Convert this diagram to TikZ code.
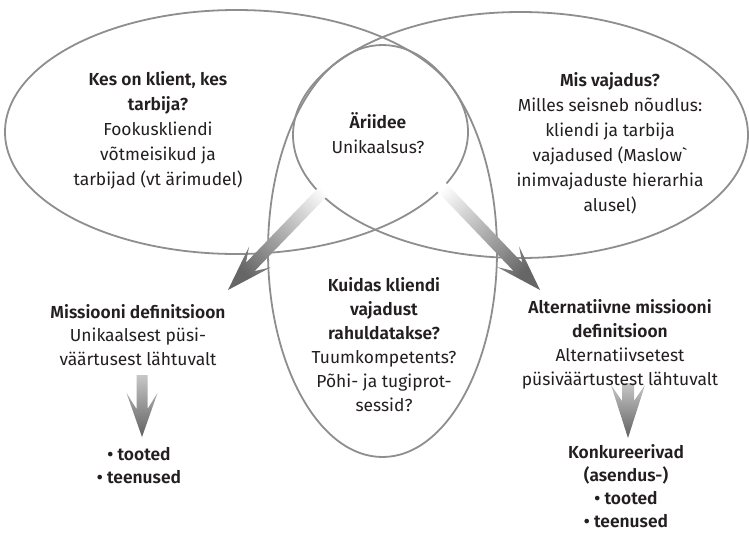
\documentclass[tikz,border=0pt]{standalone}
\usepackage{fontspec}
\setmainfont{Fira Sans}[BoldFont=* SemiBold]
\usetikzlibrary{calc}
\definecolor{linegray}{HTML}{8E8E8E}
\definecolor{txt}{HTML}{231F20}
\newcommand{\gravemark}{{\addfontfeatures{Ligatures=TeXOff}`}}
\begin{document}
\begin{tikzpicture}[x=1pt,y=-1pt,
  ell/.style={draw=linegray, line width=1.8pt},
  lbl/.style={align=center, text=txt, font=\fontsize{17.4}{25}\selectfont, inner sep=0pt},
  bigshade/.style={top color=white, bottom color=black!60},
  downshade/.style={top color=black!22, bottom color=black!62}]
\useasboundingbox (0,0) rectangle (749,533);
\fill[white] (0,0) rectangle (749,533);
% ellipses
\draw[ell] (236.5,132) ellipse [x radius=231.5pt, y radius=122pt];
\draw[ell] (520.5,135) ellipse [x radius=227.5pt, y radius=123pt];
\draw[ell] (382.5,251) ellipse [x radius=114.5pt, y radius=206pt];
% left diagonal arrow
\coordinate (ls) at (337,177);
\coordinate (lt) at (228,290);
\coordinate (ln) at ($(lt)!32pt!(ls)$);
\coordinate (lb) at ($(lt)!46pt!(ls)$);
\shade[bigshade, shading angle=-44]
  ($(ls)!6pt!90:(lt)$) -- ($(ln)!6pt!-90:(ls)$) -- ($(lb)!15pt!-90:(ls)$) -- (lt)
  -- ($(lb)!15pt!90:(ls)$) -- ($(ln)!6pt!90:(ls)$) -- ($(ls)!6pt!-90:(lt)$) -- cycle;
% right diagonal arrow
\coordinate (rs) at (430,175);
\coordinate (rt) at (540,290);
\coordinate (rn) at ($(rt)!32pt!(rs)$);
\coordinate (rb) at ($(rt)!46pt!(rs)$);
\shade[bigshade, shading angle=44]
  ($(rs)!6pt!90:(rt)$) -- ($(rn)!6pt!-90:(rs)$) -- ($(rb)!15pt!-90:(rs)$) -- (rt)
  -- ($(rb)!15pt!90:(rs)$) -- ($(rn)!6pt!90:(rs)$) -- ($(rs)!6pt!-90:(rt)$) -- cycle;
% down arrows
\shade[downshade] (136.5,375) -- (147.5,375) -- (147.5,409) -- (157.5,393) -- (142,437)
  -- (126.5,393) -- (136.5,409) -- cycle;
\shade[downshade] (622,383) -- (634,383) -- (634,401) -- (645,385) -- (628,438)
  -- (611,385) -- (622,401) -- cycle;
% texts
\node[lbl] (klient) at (158,130) {\textbf{Kes on klient, kes}\\\textbf{tarbija?}\\Fookuskliendi\\võtmeisikud ja\\tarbijad (vt ärimudel)};
\node[lbl] (idee) at (378,133) {\textbf{Äriidee}\\Unikaalsus?};
\node[lbl] (vajadus) at (610,143) {\textbf{Mis vajadus?}\\Milles seisneb nõudlus:\\kliendi ja tarbija\\vajadused (Maslow\gravemark\\inimvajaduste hierarhia\\alusel)};
\node[lbl, font=\fontsize{17.4}{24}\selectfont] (kuidas) at (384,345) {\textbf{Kuidas kliendi}\\\textbf{vajadust}\\\textbf{rahuldatakse?}\\Tuumkompetents?\\Põhi- ja tugiprot-\\sessid?};
\node[lbl, font=\fontsize{17.4}{23.5}\selectfont] (mission) at (138,335) {\textbf{Missiooni definitsioon}\\Unikaalsest püsi-\\väärtusest lähtuvalt};
\node[lbl, font=\fontsize{17.4}{23}\selectfont] (tooted) at (139,466) {\textbf{• tooted}\\\textbf{• teenused}};
\node[lbl, font=\fontsize{17.4}{24}\selectfont] (altmission) at (620,344) {\textbf{Alternatiivne missiooni}\\\textbf{definitsioon}\\Alternatiivsetest\\püsiväärtustest lähtuvalt};
\node[lbl, font=\fontsize{17.4}{23}\selectfont] (konk) at (626,486) {\textbf{Konkureerivad}\\\textbf{(asendus-)}\\\textbf{• tooted}\\\textbf{• teenused}};
\end{tikzpicture}
\end{document}
